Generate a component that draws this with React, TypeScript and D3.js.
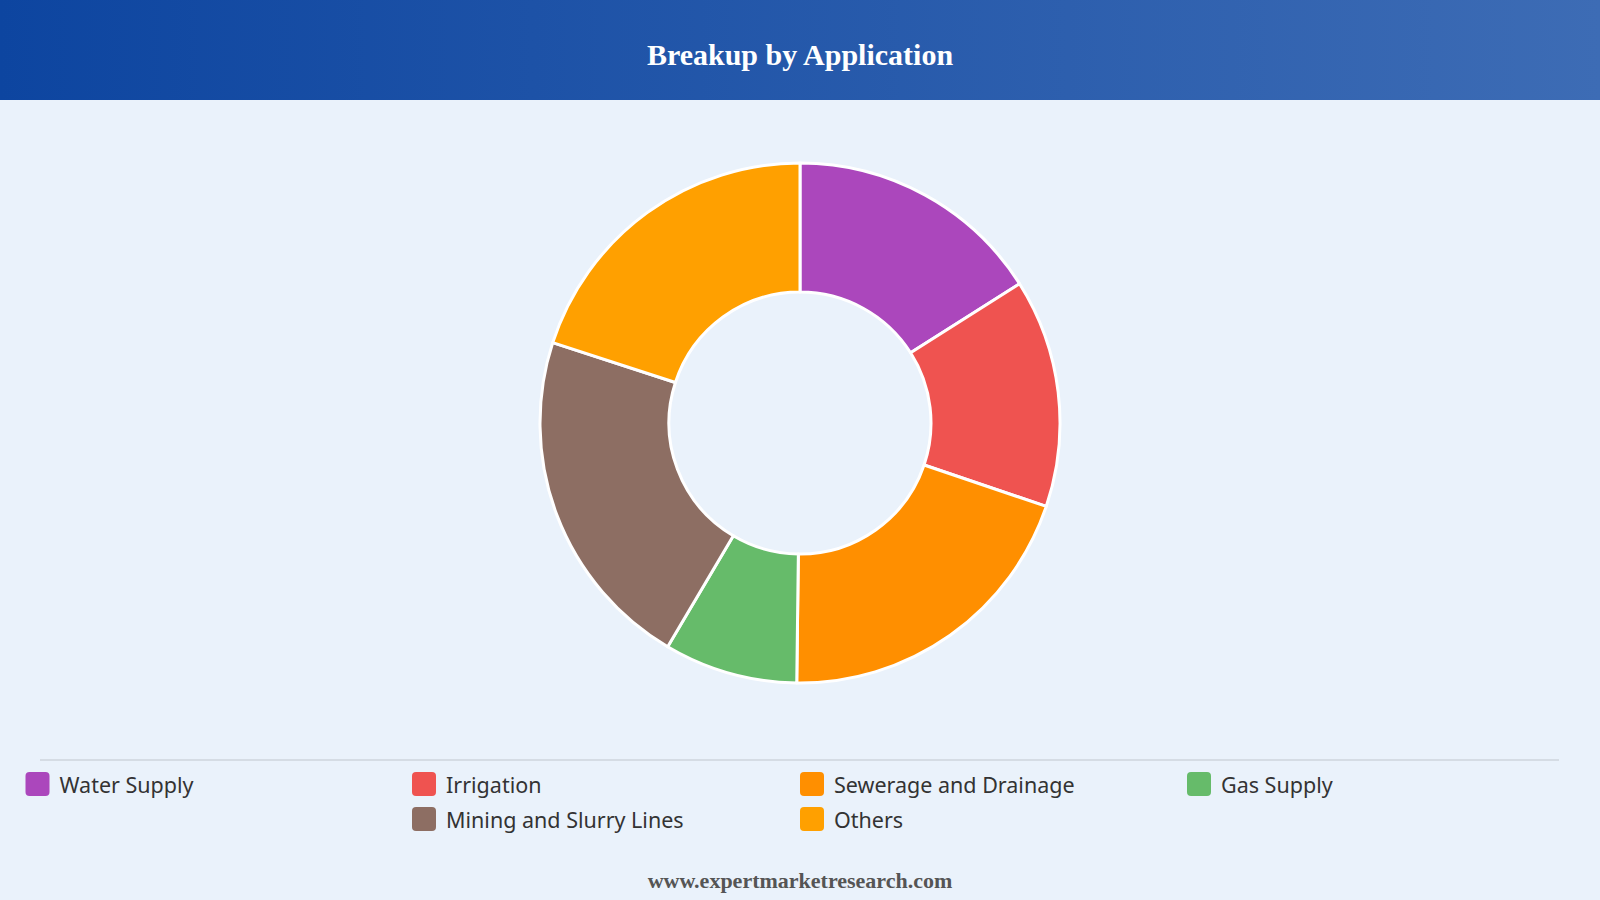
import React from "react";
import * as d3 from "d3";

const categories = ["Water Supply", "Irrigation", "Sewerage and Drainage", "Gas Supply", "Mining and Slurry Lines", "Others"];
const values = [16, 14.2, 20, 8.3, 21.5, 20];
const colors = ["#AB47BC", "#EF5350", "#FF8F00", "#66BB6A", "#8D6E63", "#FFA000"];
const title = "Breakup by Application";
const footer = "www.expertmarketresearch.com";

const W = 1600;
const H = 900;

export default function App() {
  React.useEffect(() => {
    document.body.style.margin = "0";
  }, []);
  const data = categories.map((c, i) => ({ name: c, value: values[i], color: colors[i] }));
  const pie = d3.pie<any>().sort(null).value((d: any) => d.value).startAngle(0).endAngle(2 * Math.PI);
  const arcs = pie(data);
  const arc = d3.arc<any>().innerRadius(131).outerRadius(260);
  const cx = 800, cy = 423;

  const colX = [25.5, 412, 800, 1187];
  const rowY = [784, 819];
  const legendItems = data.map((d, i) => ({ ...d, col: i < 4 ? i : i - 3, row: i < 4 ? 0 : 1 }));

  return (
    <svg width={W} height={H} style={{ display: "block" }}>
      <defs>
        <linearGradient id="hdr" x1="0" x2="1" y1="0" y2="0">
          <stop offset="0%" stopColor="#0D45A0" />
          <stop offset="100%" stopColor="#3D6CB5" />
        </linearGradient>
      </defs>
      <rect x={0} y={0} width={W} height={H} fill="#EAF2FB" />
      <rect x={0} y={0} width={W} height={100} fill="url(#hdr)" />
      <text x={800} y={54} textAnchor="middle" dominantBaseline="central" fill="#fff"
        style={{ fontFamily: "'Liberation Serif', 'Times New Roman', serif", fontWeight: 700, fontSize: 30 }}>
        {title}
      </text>
      <g transform={`translate(${cx},${cy})`}>
        {arcs.map((a, i) => (
          <path key={i} d={arc(a) as string} fill={a.data.color} stroke="#fff" strokeWidth={3} strokeLinejoin="round" />
        ))}
      </g>
      <line x1={40} x2={1559} y1={760} y2={760} stroke="#D5DCE4" strokeWidth={2} />
      {legendItems.map((d, i) => (
        <g key={i} transform={`translate(${colX[d.col]},${rowY[d.row]})`}>
          <rect x={0} y={-12} width={24} height={24} rx={4} fill={d.color} />
          <text x={34} y={0} dominantBaseline="central" fill="#333"
            style={{ fontFamily: "'Noto Sans', 'Open Sans', sans-serif", fontSize: 21.5 }}>
            {d.name}
          </text>
        </g>
      ))}
      <text x={800} y={880} textAnchor="middle" dominantBaseline="central" fill="#555"
        style={{ fontFamily: "'Liberation Serif', 'Times New Roman', serif", fontWeight: 700, fontSize: 22 }}>
        {footer}
      </text>
    </svg>
  );
}
